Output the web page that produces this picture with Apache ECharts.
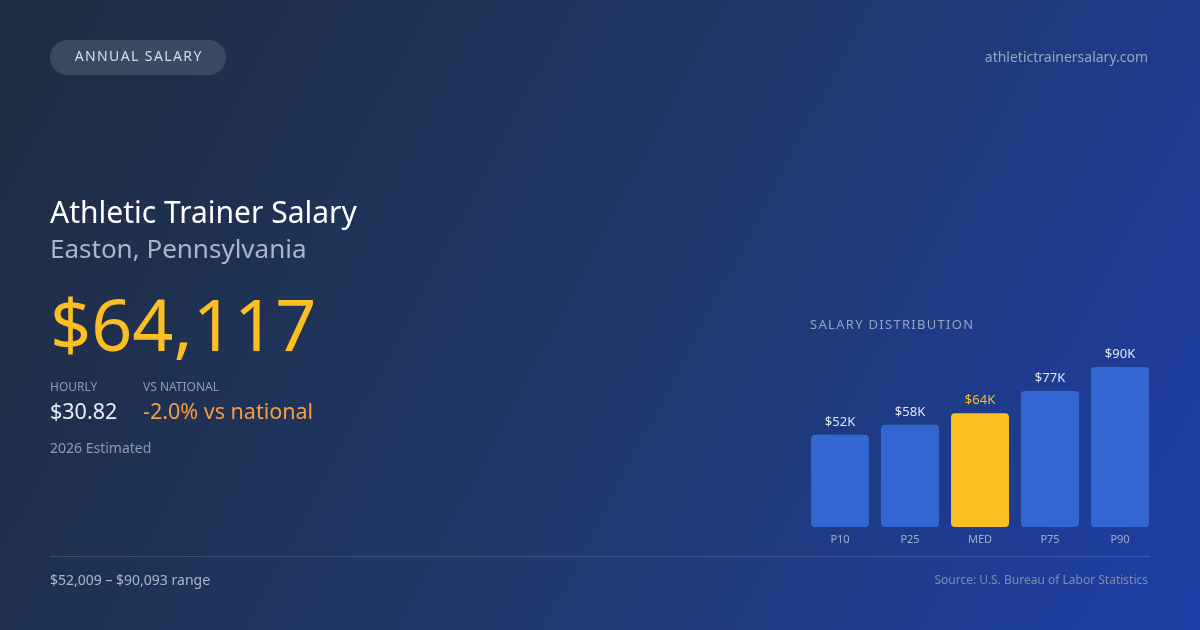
<!DOCTYPE html>
<html><head><meta charset="utf-8">
<script src="https://cdn.jsdelivr.net/npm/echarts@6/dist/echarts.min.js"></script>
<style>html,body{margin:0;padding:0;}#c{width:1200px;height:630px;}</style>
</head><body><div id="c"></div>
<script>
const categories = ['P10','P25','MED','P75','P90'];
const values = [52009, 57600, 64117, 76600, 90093];
const labels = ['$52K','$58K','$64K','$77K','$90K'];
const F = '"Noto Sans", "Open Sans", sans-serif';
const sp = s => s.split('').join('\u200A');
const chart = echarts.init(document.getElementById('c'));
const t = (x,y,text,size,color,extra) => Object.assign({type:'text',x,y,style:Object.assign({text,fontSize:size,fill:color,fontFamily:F},extra||{})});
chart.setOption({
  animation:false,
  graphic:[
    {type:'rect',shape:{x:0,y:0,width:1200,height:630},z:-10,style:{fill:new echarts.graphic.LinearGradient(0,0,1,1,[{offset:0,color:'#1f2b40'},{offset:0.5,color:'#1f3868'},{offset:1,color:'#1e3ea6'}])}},
    {type:'rect',shape:{x:50,y:40,width:176,height:35,r:17.5},style:{fill:'rgba(255,255,255,0.13)'}},
    t(138,57.5,sp('ANNUAL SALARY'),14,'#d8deea',{align:'center',verticalAlign:'middle'}),
    t(1148,58,'athletictrainersalary.com',14,'#98a6c0',{align:'right',verticalAlign:'middle'}),
    t(50,214,'Athletic Trainer Salary',30,'#ffffff',{verticalAlign:'middle'}),
    t(50,251,'Easton, Pennsylvania',26,'#a9b6cc',{verticalAlign:'middle'}),
    t(50,330,'$64,117',72,'#fbbf24',{verticalAlign:'middle'}),
    t(50,388,'HOURLY',12,'#8e9bb3',{verticalAlign:'middle'}),
    t(143,388,'VS NATIONAL',12,'#8e9bb3',{verticalAlign:'middle'}),
    t(50,413,'$30.82',21.5,'#e8ecf3',{verticalAlign:'middle'}),
    t(143,413,'-2.0% vs national',21.5,'#f59e42',{verticalAlign:'middle'}),
    t(50,449,'2026 Estimated',14,'#8e9bb3',{verticalAlign:'middle'}),
    t(810,325,sp('SALARY DISTRIBUTION'),13,'#93a3c4',{verticalAlign:'middle'}),
    {type:'rect',shape:{x:50,y:556,width:1100,height:1},style:{fill:'rgba(255,255,255,0.15)'}},
    t(50,581,'$52,009 – $90,093 range',14,'#a9b6cc',{verticalAlign:'middle'}),
    t(1148,581,'Source: U.S. Bureau of Labor Statistics',12,'#7f8eac',{align:'right',verticalAlign:'middle'})
  ],
  grid:{left:805,right:45,top:367,bottom:103},
  xAxis:{type:'category',data:categories,axisLine:{show:false},axisTick:{show:false},
    axisLabel:{color:'#9fb0cf',fontSize:11,fontFamily:F,margin:7}},
  yAxis:{type:'value',min:0,max:90093,show:false,splitLine:{show:false}},
  series:[{type:'bar',barWidth:58,
    data:values.map((v,i)=>({value:v,itemStyle:{color:i===2?'#fbbf24':'#3366d1',borderRadius:4},
      label:{color:i===2?'#fbbf24':'#dfe6f3'}})),
    label:{show:true,position:'top',distance:6,fontSize:13,fontFamily:F,formatter:p=>labels[p.dataIndex]}}]
});
</script></body></html>
